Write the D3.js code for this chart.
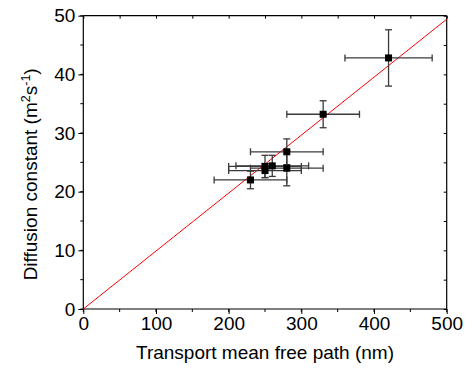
<!DOCTYPE html>
<html><head><meta charset="utf-8">
<script src="https://cdn.jsdelivr.net/npm/d3@7"></script>
<style>body{margin:0;background:#fff}svg{display:block}text{font-family:"Liberation Sans",Arial,sans-serif}</style>
</head><body>
<svg id="c" width="471" height="373"></svg>
<script>
const pathNm   = [230, 250, 250, 260, 280, 280, 330, 420];
const diffD    = [22.0, 23.6, 24.3, 24.4, 24.0, 26.8, 33.2, 42.8];
const pathErr  = [50, 50, 50, 50, 50, 50, 50, 60];
const diffErr  = [1.5, 1.2, 1.9, 1.8, 3.0, 2.2, 2.3, 4.8];
const fitX     = [0, 500];
const fitY     = [0, 49.4];
const xTicks   = [0, 100, 200, 300, 400, 500];
const yTicks   = [0, 10, 20, 30, 40, 50];

const svg = d3.select("#c");
const L = 83.3, R = 446.7, T = 15.7, B = 309;
const x = d3.scaleLinear().domain([0, 500]).range([L, R]);
const y = d3.scaleLinear().domain([0, 50]).range([B, T]);

const xMinor = d3.range(0, 501, 50);
const yMinor = d3.range(0, 51, 5);
const FS = 19;

const gx = svg.append("g").attr("transform", `translate(0,${B})`)
  .call(d3.axisBottom(x).tickValues(xTicks).tickSize(5).tickPadding(3).tickFormat(d3.format("d")));
gx.append("g").selectAll("line").data(xMinor).join("line")
  .attr("x1", d => x(d)).attr("x2", d => x(d)).attr("y1", 0).attr("y2", 3).attr("stroke", "#000");
const gy = svg.append("g").attr("transform", `translate(${L},0)`)
  .call(d3.axisLeft(y).tickValues(yTicks).tickSize(5).tickPadding(3).tickFormat(d3.format("d")));
gy.append("g").selectAll("line").data(yMinor).join("line")
  .attr("y1", d => y(d)).attr("y2", d => y(d)).attr("x1", 0).attr("x2", -3).attr("stroke", "#000");
const gt = svg.append("g").attr("transform", `translate(0,${T})`)
  .call(d3.axisTop(x).tickValues(xMinor).tickSize(-3).tickFormat(""));
const gr = svg.append("g").attr("transform", `translate(${R},0)`)
  .call(d3.axisRight(y).tickValues(yMinor).tickSize(-3).tickFormat(""));

[gx, gy, gt, gr].forEach(g => {
  g.select(".domain").attr("stroke", "#000").attr("stroke-width", 1.2);
  g.selectAll(".tick line").attr("stroke", "#000");
  g.selectAll("text").attr("font-size", FS).attr("fill", "#000")
   .style("font-family", '"Liberation Sans",Arial,sans-serif');
});
gy.select(".domain").attr("d", `M0,${B}V${T}`);
gx.select(".domain").attr("d", `M${L},0H${R}`);
gt.select(".domain").attr("d", `M${L},0H${R}`);
gr.select(".domain").attr("d", `M0,${B}V${T}`);

svg.append("line")
  .attr("x1", x(fitX[0])).attr("y1", y(fitY[0]))
  .attr("x2", x(fitX[1])).attr("y2", y(fitY[1]))
  .attr("stroke", "#ff0000").attr("stroke-width", 1);

const data = pathNm.map((v, i) => ({x: v, y: diffD[i], ex: pathErr[i], ey: diffErr[i]}));
const eb = svg.append("g").attr("stroke", "#3a3a3a").attr("stroke-width", 1.3);
const cap = 3.5;
data.forEach(d => {
  eb.append("line").attr("x1", x(d.x - d.ex)).attr("x2", x(d.x + d.ex)).attr("y1", y(d.y)).attr("y2", y(d.y));
  eb.append("line").attr("x1", x(d.x - d.ex)).attr("x2", x(d.x - d.ex)).attr("y1", y(d.y) - cap).attr("y2", y(d.y) + cap);
  eb.append("line").attr("x1", x(d.x + d.ex)).attr("x2", x(d.x + d.ex)).attr("y1", y(d.y) - cap).attr("y2", y(d.y) + cap);
  eb.append("line").attr("x1", x(d.x)).attr("x2", x(d.x)).attr("y1", y(d.y - d.ey)).attr("y2", y(d.y + d.ey));
  eb.append("line").attr("x1", x(d.x) - cap).attr("x2", x(d.x) + cap).attr("y1", y(d.y - d.ey)).attr("y2", y(d.y - d.ey));
  eb.append("line").attr("x1", x(d.x) - cap).attr("x2", x(d.x) + cap).attr("y1", y(d.y + d.ey)).attr("y2", y(d.y + d.ey));
});
svg.append("g").selectAll("rect").data(data).join("rect")
  .attr("x", d => x(d.x) - 3.5).attr("y", d => y(d.y) - 3.5)
  .attr("width", 7).attr("height", 7).attr("fill", "#000");

svg.append("text").attr("x", (L + R) / 2).attr("y", 359).attr("text-anchor", "middle")
  .attr("font-size", FS).text("Transport mean free path (nm)");
const yt = svg.append("text").attr("transform", `translate(37,${(T + B) / 2 + 12}) rotate(-90)`)
  .attr("text-anchor", "middle").attr("font-size", FS);
yt.append("tspan").text("Diffusion constant (m");
yt.append("tspan").attr("font-size", 12.5).attr("dy", -7.5).text("2");
yt.append("tspan").attr("font-size", FS).attr("dy", 7.5).text("s");
yt.append("tspan").attr("font-size", 12.5).attr("dy", -7.5).text("-1");
yt.append("tspan").attr("font-size", FS).attr("dy", 7.5).text(")");
</script>
</body></html>
